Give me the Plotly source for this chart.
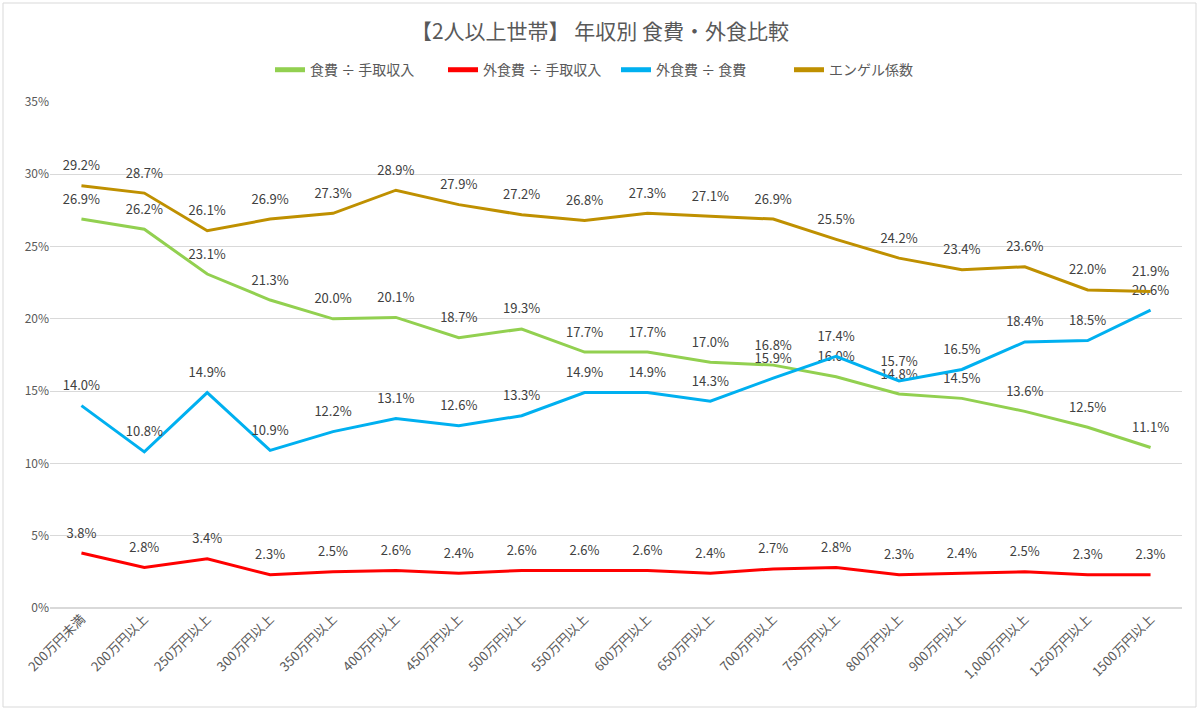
import plotly.graph_objects as go

categories = ["200万円未満", "200万円以上", "250万円以上", "300万円以上", "350万円以上",
              "400万円以上", "450万円以上", "500万円以上", "550万円以上", "600万円以上",
              "650万円以上", "700万円以上", "750万円以上", "800万円以上", "900万円以上",
              "1,000万円以上", "1250万円以上", "1500万円以上"]

food_ratio = [26.9, 26.2, 23.1, 21.3, 20.0, 20.1, 18.7, 19.3, 17.7, 17.7, 17.0, 16.8, 16.0, 14.8, 14.5, 13.6, 12.5, 11.1]
eatout_income = [3.8, 2.8, 3.4, 2.3, 2.5, 2.6, 2.4, 2.6, 2.6, 2.6, 2.4, 2.7, 2.8, 2.3, 2.4, 2.5, 2.3, 2.3]
eatout_food = [14.0, 10.8, 14.9, 10.9, 12.2, 13.1, 12.6, 13.3, 14.9, 14.9, 14.3, 15.9, 17.4, 15.7, 16.5, 18.4, 18.5, 20.6]
engel = [29.2, 28.7, 26.1, 26.9, 27.3, 28.9, 27.9, 27.2, 26.8, 27.3, 27.1, 26.9, 25.5, 24.2, 23.4, 23.6, 22.0, 21.9]

series = [
    ("食費 ÷ 手取収入", food_ratio, "#92D050"),
    ("外食費 ÷ 手取収入", eatout_income, "#FF0000"),
    ("外食費 ÷ 食費", eatout_food, "#00B0F0"),
    ("エンゲル係数", engel, "#BF9000"),
]

FONT = "Noto Sans CJK JP"
fig = go.Figure()
for name, vals, color in series:
    fig.add_trace(go.Scatter(
        x=categories, y=vals, name=name, mode="lines+markers+text",
        line=dict(color=color, width=3),
        marker=dict(size=18, opacity=0, color=color),
        text=[f"{v:.1f}%" for v in vals], textposition="top center",
        textfont=dict(family=FONT, size=13, color="#404040"),
        cliponaxis=False, showlegend=False,
    ))
# legend entries (line only)
for name, vals, color in series:
    fig.add_trace(go.Scatter(
        x=[None], y=[None], name=name, mode="lines",
        line=dict(color=color, width=5), showlegend=True,
    ))

fig.update_layout(
    width=1200, height=711,
    margin=dict(l=50, r=18, t=102, b=103),
    paper_bgcolor="white", plot_bgcolor="white",
    font=dict(family=FONT, color="#595959"),
    title=dict(text="【2人以上世帯】 年収別 食費・外食比較", x=0.5, xanchor="center",
               y=1 - 32 / 711, yanchor="middle", yref="container",
               font=dict(family=FONT, size=21, color="#595959")),
    legend=dict(orientation="h", x=0.5, xanchor="center", y=1.063, yanchor="middle",
                font=dict(family=FONT, size=14, color="#595959"), itemwidth=30,
                entrywidth=128, entrywidthmode="pixels",
                bgcolor="rgba(0,0,0,0)"),
    showlegend=True,
)
fig.update_xaxes(showgrid=False, showline=False, ticks="", tickangle=-45,
                 range=[-0.5, len(categories) - 0.5],
                 tickfont=dict(family=FONT, size=13, color="#595959"))
fig.update_yaxes(range=[0, 35], dtick=5, ticksuffix="%", showgrid=True,
                 gridcolor="#D9D9D9", gridwidth=1, zeroline=True, zerolinecolor="#D9D9D9",
                 showline=False, tickfont=dict(family=FONT, size=12, color="#595959"))

# chart border
fig.add_shape(type="rect", xref="paper", yref="paper",
              x0=(3 - 50) / 1132, x1=(1196 - 50) / 1132,
              y0=(608 - 707) / 506, y1=(608 - 3) / 506,
              line=dict(color="#D9D9D9", width=1), fillcolor="rgba(0,0,0,0)", layer="below")

fig.write_html("out.html")
